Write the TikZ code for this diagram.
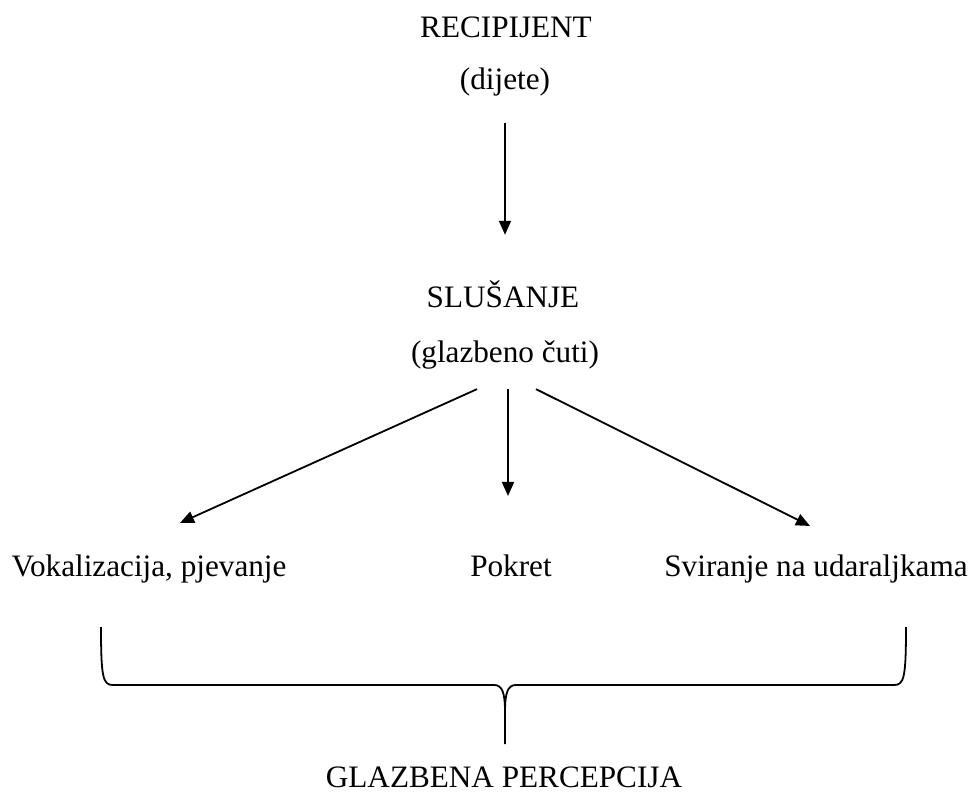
\documentclass[tikz,border=0pt]{standalone}
\usepackage{fontspec}
\setmainfont{Liberation Serif}
\usetikzlibrary{arrows.meta, positioning, calc}
\tikzstyle{arrow} = [line width=0.9pt, -{Triangle[length=7pt,width=6pt]}]

\begin{document}
\begin{tikzpicture}[x=0.5pt, y=-0.5pt,
    lbl/.style={font=\fontsize{15.6}{18}\selectfont, inner sep=0pt, anchor=base},
    brace/.style={line width=0.9pt},
]
\useasboundingbox (0,0) rectangle (971,792);

% Recipient (top)
\node[lbl] (rec) at (506,38) {RECIPIJENT};
\node[lbl] (dij) at (505,90) {(dijete)};

% Listening
\node[lbl] (slu) at (503,307) {SLUŠANJE};
\node[lbl] (cuti) at (505,363) {(glazbeno čuti)};
\draw[arrow] ($(dij.south)+(0,26)$) -- ($(dij.south |- slu.north)+(0,-45)$);

% Activities
\node[lbl] (voka) at (149,576) {Vokalizacija, pjevanje};
\node[lbl] (pok) at (511,576) {Pokret};
\node[lbl] (svir) at (816,576) {Sviranje na udaraljkama};

\draw[arrow] ($(cuti.south)+(-28,19)$) -- ($(voka.north)+(31,-31)$);
\draw[arrow] ($(cuti.south)+(3,19)$) -- ($(pok.north)+(-3,-58)$);
\draw[arrow] ($(cuti.south)+(31,19)$) -- ($(svir.north)+(-6,-28)$);

% Brace
\draw[brace] (101,627) .. controls (101,678) and (103,685) .. (113,685) -- (494,685)
    .. controls (502,685) and (505,692) .. (505,712) -- (505,744);
\draw[brace] (906,627) .. controls (906,678) and (904,685) .. (894,685) -- (516,685)
    .. controls (508,685) and (505,692) .. (505,712);

% Result
\node[lbl] (perc) at (504,787) {GLAZBENA PERCEPCIJA};

\end{tikzpicture}
\end{document}
